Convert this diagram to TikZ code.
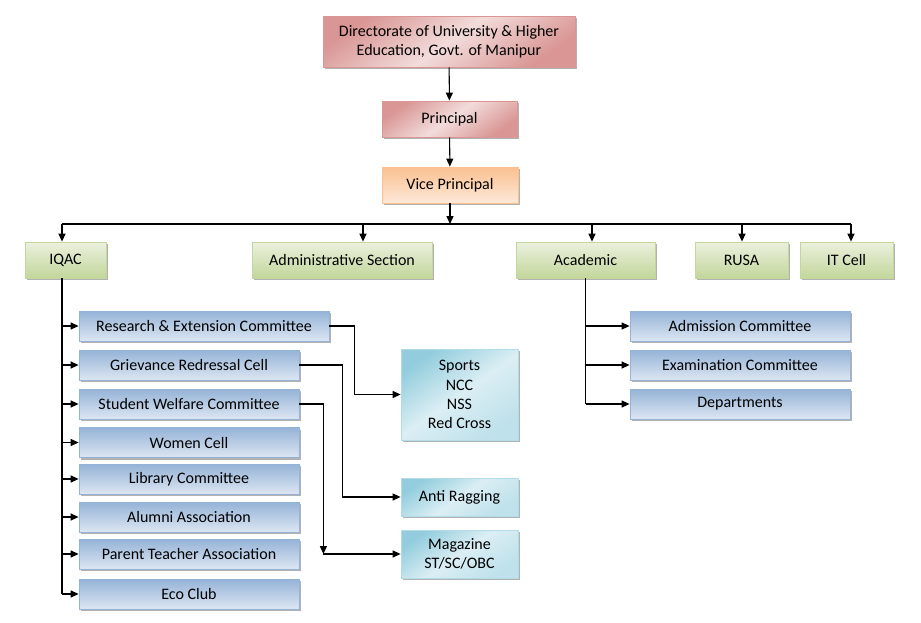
\documentclass[tikz,border=0pt]{standalone}
\usepackage{fontspec}
\setmainfont{Carlito}
\usepackage{xcolor}
\usetikzlibrary{arrows.meta, shadows, calc}
\definecolor{redDark}{HTML}{D99694}
\definecolor{redLight}{HTML}{F2DCDB}
\definecolor{orDark}{HTML}{FAC090}
\definecolor{orLight}{HTML}{FDE9D9}
\definecolor{grDark}{HTML}{C3D69B}
\definecolor{grLight}{HTML}{EBF1DE}
\definecolor{blDark}{HTML}{95B3D7}
\definecolor{blLight}{HTML}{DCE6F2}
\definecolor{tlDark}{HTML}{93CDDD}
\definecolor{tlLight}{HTML}{DBEEF4}
\newcommand{\boxfont}{\fontsize{9.1}{10.9}\selectfont}

\begin{document}
\begin{tikzpicture}[
    x=0.02cm, y=-0.02cm,
    box/.style={draw, line width=0.5pt, minimum height=0.6cm,
                align=center, inner sep=1pt, font=\boxfont,
                drop shadow={shadow xshift=0.04cm, shadow yshift=-0.04cm,
                             fill=black, opacity=0.3}},
    redbox/.style={box, draw=redDark, left color=redDark, right color=redDark,
                   middle color=redLight, shading angle=35},
    orbox/.style={box, draw=orDark, top color=orDark, bottom color=orLight},
    grbox/.style={box, draw=grDark, minimum height=0.72cm,
                  top color=grLight, bottom color=grDark},
    blbox/.style={box, draw=blDark, minimum width=4.4cm,
                  top color=blDark, bottom color=blLight},
    tlbox/.style={box, draw=tlDark!70, minimum width=2.34cm, left color=tlDark,
                  right color=tlDark!60, middle color=tlLight, shading angle=35},
    arrow/.style={-{Triangle[length=4.5pt,width=4pt]}, line width=0.6pt},
    link/.style={line width=0.6pt},
]
    \useasboundingbox (0,0) rectangle (921,623);

    % top of the chart
    \node[redbox, minimum width=5.04cm, minimum height=1.02cm] (dir) at (449,41.5)
        {Directorate of University \& Higher\\ Education, Govt. of Manipur};
    \node[redbox, minimum width=2.7cm, minimum height=0.72cm] (prin) at (449.5,119) {Principal};
    \node[orbox, minimum width=2.72cm, minimum height=0.72cm] (vp) at (450,185) {Vice Principal};

    % sections
    \node[grbox, minimum width=1.62cm] (iqac)   at (65.5,260)  {IQAC};
    \node[grbox, minimum width=3.6cm]  (admin)  at (342,260)   {Administrative Section};
    \node[grbox, minimum width=2.78cm] (acad)   at (585.5,260) {Academic};
    \node[grbox, minimum width=1.86cm] (rusa)   at (741.5,260) {RUSA};
    \node[grbox, minimum width=1.86cm] (itcell) at (846.5,260) {IT Cell};

    % IQAC committees
    \node[blbox, minimum width=5cm] (res) at (204,326) {Research \& Extension Committee};
    \node[blbox] (grc)    at (189,365)   {Grievance Redressal Cell};
    \node[blbox] (swc)    at (189,404)   {Student Welfare Committee};
    \node[blbox] (women)  at (189,442.5) {Women Cell};
    \node[blbox] (lib)    at (189,479)   {Library Committee};
    \node[blbox] (alumni) at (189,517)   {Alumni Association};
    \node[blbox] (pta)    at (189,554)   {Parent Teacher Association};
    \node[blbox] (eco)    at (189,594)   {Eco Club};

    % academic committees
    \node[blbox] (adm)  at (740,326) {Admission Committee};
    \node[blbox] (exam) at (740,365) {Examination Committee};
    \node[blbox] (dept) at (740,404) {Departments};

    % student activities
    \node[tlbox, minimum height=1.82cm] (sports) at (459.5,394.5) {Sports\\ NCC\\ NSS\\ Red Cross};
    \node[tlbox, minimum height=0.76cm] (anti)   at (459.5,497)   {Anti Ragging};
    \node[tlbox, minimum height=0.96cm] (mag)    at (459.5,554)   {Magazine\\ ST/SC/OBC};

    % bus under the vice principal
    \coordinate (b1) at (62,224);
    \coordinate (b2) at (363,224);
    \coordinate (b3) at (592,224);
    \coordinate (b4) at (742,224);
    \coordinate (b5) at (851,224);

    \draw[arrow] (dir) -- (prin);
    \draw[arrow] (prin) -- (vp);
    \draw[arrow] (vp.south) -- (vp.south |- b1);
    \draw[link] (b1) -- (b5);
    \foreach \a/\b in {b1/iqac, b2/admin, b3/acad, b4/rusa, b5/itcell}
        \draw[arrow] (\a) -- (\a |- \b.north);

    % IQAC spine
    \draw[link] (b1 |- iqac.south) -- (b1 |- eco.west);
    \foreach \c in {res, grc, swc, women, lib, alumni, pta, eco}
        \draw[arrow] (b1 |- \c.west) -- (\c.west);

    % academic spine
    \draw[link] (acad.south) -- (acad.south |- dept.west);
    \foreach \c in {adm, exam, dept}
        \draw[arrow] (acad.south |- \c.west) -- (\c.west);

    % cross links
    \draw[arrow] (res.east) -- ++(25,0) |- (sports.west);
    \draw[arrow] (grc.east) -- ++(43,0) |- (anti.west);
    \path (swc.east) ++(24,0) coordinate (swcbend);
    \coordinate (magturn) at (swcbend |- mag.west);
    \draw[arrow] (swc.east) -- (swcbend) -- (magturn);
    \draw[arrow] (magturn) -- (mag.west);
\end{tikzpicture}
\end{document}
